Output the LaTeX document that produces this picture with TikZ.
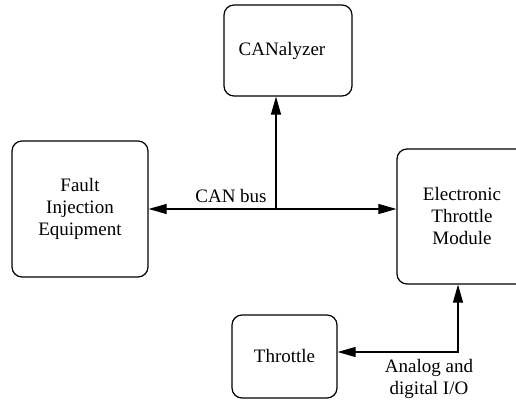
\documentclass[tikz,border=0pt]{standalone}
\usepackage{fontspec}
\setmainfont{Liberation Serif}
\usetikzlibrary{arrows.meta, positioning}

\begin{document}
\begin{tikzpicture}[
    x=1pt, y=1pt,
    block/.style={rectangle, draw, rounded corners=10pt, line width=1.2pt, align=center, inner sep=0pt, font=\fontsize{19}{22}\selectfont},
    tag/.style={align=center, inner sep=0pt, font=\fontsize{19}{22}\selectfont},
    arrow/.style={line width=1.1pt, -{Triangle[length=18pt,width=10pt]}},
    dblarrow/.style={line width=1.1pt, {Triangle[length=18pt,width=10pt]}-{Triangle[length=18pt,width=10pt]}}
]
\useasboundingbox (0,0) rectangle (516,403);
\clip (0,0) rectangle (516,403);

% boxes
\node (cana) [block, minimum width=128pt, minimum height=91pt] at (288,352.5) {CANalyzer\hspace*{12pt}};
\node (fault) [block, minimum width=136pt, minimum height=136pt] at (80,194) {Fault\\Injection\\Equipment};
\node (etm) [block, minimum width=130pt, minimum height=135pt] at (462,186.5) {Electronic\\Throttle\\Module};
\node (throttle) [block, minimum width=105pt, minimum height=83pt] at (284.5,46.5) {Throttle};

% CAN bus
\coordinate (bus) at (276,194);
\draw [dblarrow] (fault.east) -- (fault.east -| etm.west);
\draw [arrow] (bus) -- (bus |- cana.south);
\node (canlbl) [tag] at (231,207) {CAN bus};

% analog / digital link
\coordinate (io) at (458,51);
\draw [dblarrow] (io |- etm.south) -- (io) -- (io -| throttle.east);
\node (iolbl) [tag] at (429,24) {Analog and\\digital I/O};

\end{tikzpicture}
\end{document}
